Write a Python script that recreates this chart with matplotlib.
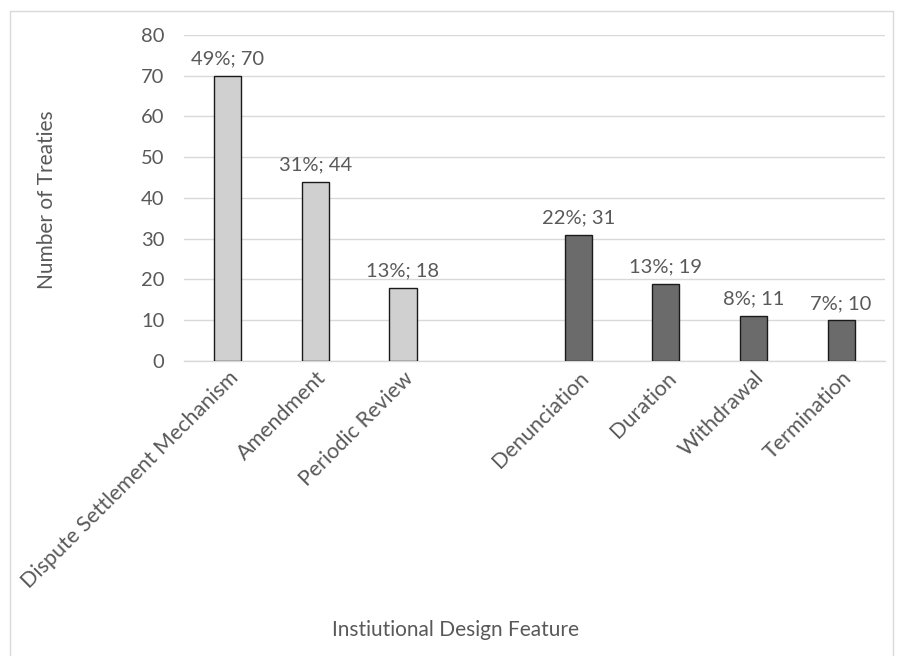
import numpy as np
import matplotlib.pyplot as plt
from matplotlib.patches import Rectangle

plt.rcParams['font.family'] = ['Lato', 'DejaVu Sans']

# treaty counts per design feature, two groups split by an empty slot
flex_features = ["Dispute Settlement Mechanism", "Amendment", "Periodic Review"]
flex_counts = [70, 44, 18]
flex_pct = [49, 31, 13]

exit_features = ["Denunciation", "Duration", "Withdrawal", "Termination"]
exit_counts = [31, 19, 11, 10]
exit_pct = [22, 13, 8, 7]

text_col = '#595959'
grid_col = '#d9d9d9'
fs = 14.5

fig = plt.figure(figsize=(8.97, 6.56), dpi=100)
ax = fig.add_axes([0.2051, 0.4497, 0.7815, 0.4970])

x_flex = np.arange(len(flex_features))
x_exit = np.arange(len(exit_features)) + len(flex_features) + 1
w = 0.31

b1 = ax.bar(x_flex, flex_counts, width=w, color='#d0d0d0', edgecolor='#1a1a1a', linewidth=1, zorder=3)
b2 = ax.bar(x_exit, exit_counts, width=w, color='#6b6b6b', edgecolor='#1a1a1a', linewidth=1, zorder=3)

for bars, pct, cnt in ((b1, flex_pct, flex_counts), (b2, exit_pct, exit_counts)):
    labels = ["%d%%; %d" % (p, c) for p, c in zip(pct, cnt)]
    ax.bar_label(bars, labels=labels, padding=6, fontsize=fs, color=text_col)

ax.set_xlim(-0.5, 7.5)
ax.set_ylim(0, 80)
ax.set_yticks(np.arange(0, 81, 10))
ax.yaxis.grid(True, color=grid_col, linewidth=1, zorder=0)
ax.set_axisbelow(True)

ax.set_xticks(np.concatenate([x_flex, x_exit]))
ax.set_xticklabels(flex_features + exit_features, rotation=45, ha='right',
                   rotation_mode='anchor', color=text_col)
ax.tick_params(axis='both', length=0, labelsize=fs, colors=text_col)
ax.tick_params(axis='x', pad=5, labelsize=15.5)
ax.tick_params(axis='y', pad=14)

for side in ('top', 'right', 'left'):
    ax.spines[side].set_visible(False)
ax.spines['bottom'].set_color(grid_col)
ax.spines['bottom'].set_linewidth(1)

fig.text(47 / 897, 1 - 200 / 656, "Number of Treaties", rotation=90,
         ha='center', va='center', fontsize=15, color=text_col)
fig.text(455 / 897, 1 - 630 / 656, "Instiutional Design Feature",
         ha='center', va='center', fontsize=15, color=text_col)

# light frame around the chart
fig.patches.append(Rectangle((9.5 / 897, -0.01), (893 - 9.5) / 897, 1 - 11 / 656 + 0.01,
                             transform=fig.transFigure, fill=False,
                             edgecolor=grid_col, linewidth=1))

fig.savefig('out.png', dpi=100)
